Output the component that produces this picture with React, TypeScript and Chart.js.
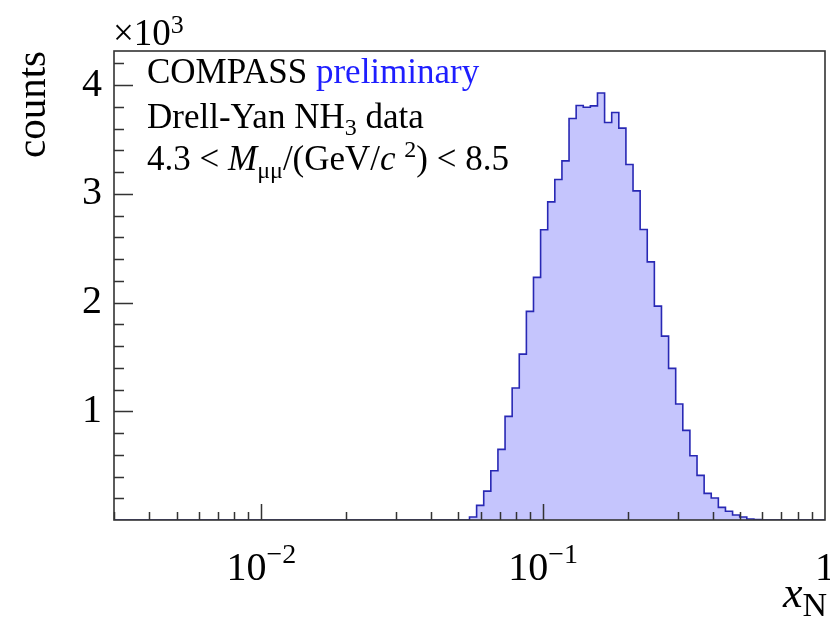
import React, { useEffect, useRef } from "react";
import { Chart, registerables } from "chart.js";

Chart.register(...registerables);

// ---- data ----
const X_MIN = 0.003;
const X_MAX = 1;
const N_BINS = 100; // log-uniform binning between X_MIN and X_MAX
const FIRST_FILLED_BIN = 50;
const binCounts = [
  28, 135, 266, 453, 650, 953, 1214, 1526, 1919, 2232,
  2670, 2927, 3133, 3304, 3694, 3813, 3798, 3810, 3929, 3657,
  3749, 3605, 3271, 3028, 2673, 2375, 1968, 1692, 1395, 1067,
  825, 591, 411, 245, 202, 116, 80, 46, 28, 9, 3,
];
const Y_MAX = 4.315; // in units of 10^3
const yTickValues = [1, 2, 3, 4];
const yTickLabels = ["1", "2", "3", "4"];
const yMinorStep = 0.2;
const xMajorTickValues = [0.01, 0.1, 1];
const xMajorTickBase = ["10", "10", "1"];
const xMajorTickExp = ["\u22122", "\u22121", ""];
const xMinorMultiples = [2, 3, 4, 5, 6, 7, 8, 9];
const yTitle = "counts";
const yExponent = "3";
const xTitleMain = "x";
const xTitleSub = "N";
const textCompass = "COMPASS";
const textPrelim = "preliminary";
const textLine2 = ["Drell-Yan NH", "3", " data"];
const textLine3 = ["4.3 < ", "M", "\u03bc\u03bc", "/(GeV/", "c", " ", "2", ") < 8.5"];

const FONT = '"Liberation Serif", "Times New Roman", serif';
const LINE_COLOR = "rgb(40,40,180)";
const FILL_COLOR = "rgb(197,197,253)";
const AXIS_COLOR = "#333333";

type Run = { t: string; size: number; italic?: boolean; dy?: number; color?: string };

function drawRuns(ctx: CanvasRenderingContext2D, runs: Run[], x: number, y: number, align: "left" | "center" | "right") {
  const fontOf = (r: Run) => `${r.italic ? "italic " : ""}${r.size}px ${FONT}`;
  let total = 0;
  for (const r of runs) {
    ctx.font = fontOf(r);
    total += ctx.measureText(r.t).width;
  }
  let cx = align === "left" ? x : align === "center" ? x - total / 2 : x - total;
  ctx.textAlign = "left";
  ctx.textBaseline = "alphabetic";
  for (const r of runs) {
    ctx.font = fontOf(r);
    ctx.fillStyle = r.color || "#000";
    ctx.fillText(r.t, cx, y + (r.dy || 0));
    cx += ctx.measureText(r.t).width;
  }
}

const rootStylePlugin = {
  id: "rootStyle",
  afterDatasetsDraw(chart: any) {
    const { ctx, chartArea: a, scales } = chart;
    const xs = scales.x;
    const ys = scales.y;
    ctx.save();
    // inward tick marks
    ctx.strokeStyle = AXIS_COLOR;
    ctx.lineWidth = 1.5;
    ctx.beginPath();
    const nMinor = Math.floor(Y_MAX / yMinorStep + 1e-6);
    for (let k = 1; k <= nMinor; k++) {
      const v = k * yMinorStep;
      const major = yTickValues.some((t) => Math.abs(t - v) < 1e-6);
      const py = Math.round(ys.getPixelForValue(v)) + 0.5;
      ctx.moveTo(a.left, py);
      ctx.lineTo(a.left + (major ? 19 : 10), py);
    }
    const lo = Math.floor(Math.log10(X_MIN));
    const hi = Math.ceil(Math.log10(X_MAX));
    for (let e = lo; e < hi; e++) {
      for (const m of xMinorMultiples) {
        const v = m * Math.pow(10, e);
        if (v < X_MIN * 0.9999 || v > X_MAX) continue;
        const px = Math.round(xs.getPixelForValue(v)) + 0.5;
        ctx.moveTo(px, a.bottom);
        ctx.lineTo(px, a.bottom - 8);
      }
    }
    for (const v of xMajorTickValues) {
      if (v >= X_MAX) continue;
      const px = Math.round(xs.getPixelForValue(v)) + 0.5;
      ctx.moveTo(px, a.bottom);
      ctx.lineTo(px, a.bottom - 16);
    }
    ctx.stroke();
    // frame
    ctx.lineWidth = 1.6;
    ctx.strokeRect(a.left, a.top, a.right - a.left, a.bottom - a.top);
    ctx.restore();
  },
  afterDraw(chart: any) {
    const { ctx, chartArea: a, scales } = chart;
    const xs = scales.x;
    ctx.save();
    // x tick labels
    xMajorTickValues.forEach((v, i) => {
      const px = xs.getPixelForValue(v);
      const runs: Run[] = [{ t: xMajorTickBase[i], size: 40 }];
      if (xMajorTickExp[i]) runs.push({ t: xMajorTickExp[i], size: 28, dy: -17 });
      drawRuns(ctx, runs, px, a.bottom + 60, "center");
    });
    // x title
    drawRuns(ctx, [
      { t: xTitleMain, size: 44, italic: true },
      { t: xTitleSub, size: 34, dy: 9 },
    ], a.right + 2, a.bottom + 87, "right");
    // y exponent
    drawRuns(ctx, [
      { t: "\u00d710", size: 37 },
      { t: yExponent, size: 26, dy: -12 },
    ], a.left - 1, a.top - 6, "left");
    // annotation text
    const x0 = a.left + 33;
    const fs = 35;
    drawRuns(ctx, [
      { t: textCompass + " ", size: fs },
      { t: textPrelim, size: fs, color: "rgb(30,30,255)" },
    ], x0, 83, "left");
    drawRuns(ctx, [
      { t: textLine2[0], size: fs },
      { t: textLine2[1], size: 24, dy: 7 },
      { t: textLine2[2], size: fs },
    ], x0, 128, "left");
    drawRuns(ctx, [
      { t: textLine3[0], size: fs },
      { t: textLine3[1], size: fs, italic: true },
      { t: textLine3[2], size: 24, dy: 8 },
      { t: textLine3[3], size: fs },
      { t: textLine3[4], size: fs, italic: true },
      { t: textLine3[5], size: fs },
      { t: textLine3[6], size: 24, dy: -13 },
      { t: textLine3[7], size: fs },
    ], x0, 170, "left");
    ctx.restore();
  },
};

export default function App() {
  const ref = useRef<HTMLCanvasElement | null>(null);
  useEffect(() => {
    const canvas = ref.current;
    if (!canvas) return;
    const lmin = Math.log10(X_MIN);
    const lmax = Math.log10(X_MAX);
    const edges: number[] = [];
    for (let i = 0; i <= N_BINS; i++) edges.push(Math.pow(10, lmin + ((lmax - lmin) * i) / N_BINS));
    const points: { x: number; y: number }[] = [];
    for (let i = 0; i < N_BINS; i++) {
      const j = i - FIRST_FILLED_BIN;
      const c = j >= 0 && j < binCounts.length ? binCounts[j] : 0;
      points.push({ x: edges[i], y: c / 1000 });
    }
    points.push({ x: edges[N_BINS], y: 0 });

    const chart = new Chart(canvas, {
      type: "line",
      data: {
        datasets: [
          {
            data: points,
            stepped: "before",
            borderColor: LINE_COLOR,
            borderWidth: 1.6,
            backgroundColor: FILL_COLOR,
            fill: "origin",
            pointRadius: 0,
            tension: 0,
          } as any,
        ],
      },
      options: {
        responsive: false,
        animation: false,
        devicePixelRatio: 1,
        layout: { padding: { top: 51, right: 5, left: 0, bottom: 0 } },
        plugins: { legend: { display: false }, tooltip: { enabled: false } },
        scales: {
          x: {
            type: "logarithmic",
            min: X_MIN,
            max: X_MAX,
            ticks: { display: false },
            grid: { display: false, drawTicks: false },
            border: { display: false },
            afterFit: (s: any) => {
              s.height = 106;
            },
          },
          y: {
            type: "linear",
            min: 0,
            max: Y_MAX,
            afterBuildTicks: (s: any) => {
              s.ticks = yTickValues.map((v) => ({ value: v }));
            },
            ticks: {
              autoSkip: false,
              padding: 12,
              color: "#000",
              font: { family: FONT, size: 40 },
              callback: (value: any) => {
                const idx = yTickValues.findIndex((t) => Math.abs(t - Number(value)) < 1e-6);
                return idx >= 0 ? yTickLabels[idx] : "";
              },
            },
            grid: { display: false, drawTicks: false },
            border: { display: false },
            title: {
              display: true,
              text: yTitle,
              align: "end",
              color: "#000",
              font: { family: FONT, size: 41 },
              padding: { top: 10, bottom: 0 },
            },
            afterFit: (s: any) => {
              s.width = 114;
            },
          },
        },
      },
      plugins: [rootStylePlugin],
    } as any);
    return () => chart.destroy();
  }, []);
  return (
    <div style={{ position: "fixed", left: 0, top: 0, width: 830, height: 626, background: "#fff" }}>
      <canvas ref={ref} width={830} height={626} style={{ display: "block" }} />
    </div>
  );
}
